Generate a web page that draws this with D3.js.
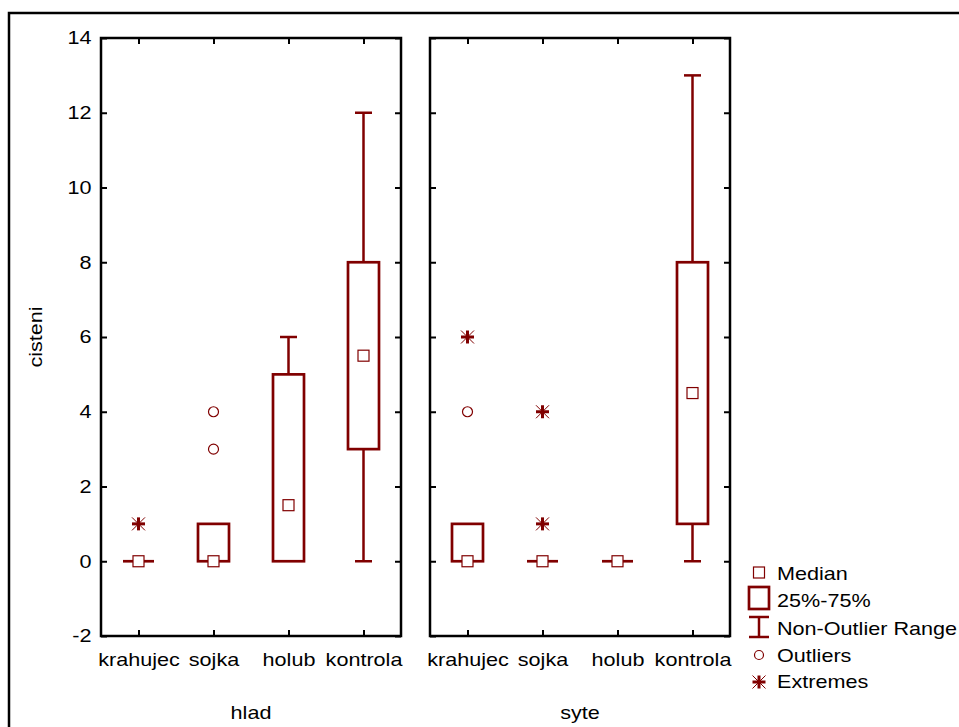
<!DOCTYPE html>
<html><head><meta charset="utf-8">
<script src="https://cdn.jsdelivr.net/npm/d3@7"></script>
<style>body{margin:0;background:#fff}text{font-family:"Liberation Sans",Arial,sans-serif}</style>
</head><body><svg id="c" width="959" height="727"></svg>
<script>
const categories = ["krahujec","sojka","holub","kontrola"];
const groups = ["hlad","syte"];
const yTicks = [-2,0,2,4,6,8,10,12,14];
// per group: median, q1, q3, whisker min, whisker max
const hladMedian = [0,0,1.5,5.5], hladQ1=[0,0,0,3], hladQ3=[0,1,5,8], hladMin=[0,0,0,0], hladMax=[0,1,6,12];
const syteMedian = [0,0,0,4.5], syteQ1=[0,0,0,1], syteQ3=[1,0,0,8], syteMin=[0,0,0,0], syteMax=[1,0,0,13];
const hladOutliers = [[],[3,4],[],[]], hladExtremes=[[1],[],[],[]];
const syteOutliers = [[4],[],[],[]], syteExtremes=[[6],[1,4],[],[]];
const legendLabels = ["Median","25%-75%","Non-Outlier Range","Outliers","Extremes"];

const red = "#800000";
const FS = 18, SX = "scale(1.2,1)";
const svg = d3.select("#c");
svg.append("rect").attr("x",9).attr("y",13).attr("width",990).attr("height",760)
  .attr("fill","none").attr("stroke","#000").attr("stroke-width",2.5);

const y = d3.scaleLinear().domain([-2,14]).range([636,38]);
const panels = [
  {name:groups[0], x0:101, x1:401, med:hladMedian,q1:hladQ1,q3:hladQ3,mn:hladMin,mx:hladMax,out:hladOutliers,ext:hladExtremes},
  {name:groups[1], x0:430, x1:730, med:syteMedian,q1:syteQ1,q3:syteQ3,mn:syteMin,mx:syteMax,out:syteOutliers,ext:syteExtremes}
];
const boxW = 31, capW = 17, medS = 11;

function extreme(g, cx, cy){
  const s=6.5;
  g.append("line").attr("x1",cx-s).attr("x2",cx+s).attr("y1",cy-s).attr("y2",cy+s).attr("stroke",red).attr("stroke-width",1);
  g.append("line").attr("x1",cx-s).attr("x2",cx+s).attr("y1",cy+s).attr("y2",cy-s).attr("stroke",red).attr("stroke-width",1);
  g.append("line").attr("x1",cx-s).attr("x2",cx+s).attr("y1",cy).attr("y2",cy).attr("stroke",red).attr("stroke-width",3);
  g.append("line").attr("x1",cx).attr("x2",cx).attr("y1",cy-s).attr("y2",cy+s).attr("stroke",red).attr("stroke-width",3);
}
function styleText(a){
  a.selectAll("text").attr("font-size",FS).attr("fill","#000")
   .attr("font-family","Liberation Sans, Arial, sans-serif").attr("transform",SX);
}

panels.forEach((p,pi)=>{
  const x = d3.scalePoint().domain(categories).range([p.x0,p.x1]).padding(0.5);
  const g = svg.append("g");
  const la = d3.axisLeft(y).tickValues(yTicks).tickSizeInner(-6).tickSizeOuter(0).tickPadding(8)
    .tickFormat(pi>0 ? "" : d=>String(d));
  g.append("g").attr("transform",`translate(${p.x0},0)`).call(la)
    .call(a=>{styleText(a);a.selectAll("line").attr("stroke-width",2);a.select(".domain").remove();});
  g.append("g").attr("transform",`translate(${p.x1},0)`).call(d3.axisRight(y).tickValues(yTicks).tickSizeInner(-6).tickSizeOuter(0).tickFormat(""))
    .call(a=>{a.selectAll("line").attr("stroke-width",2);a.select(".domain").remove();});
  g.append("g").attr("transform",`translate(0,${y(-2)})`).call(d3.axisBottom(x).tickSizeInner(-6).tickSizeOuter(0).tickPadding(17))
    .call(a=>{styleText(a);a.selectAll("line").attr("stroke-width",2);a.select(".domain").remove();});
  g.append("g").attr("transform",`translate(0,${y(14)})`).call(d3.axisTop(x).tickSizeInner(-6).tickSizeOuter(0).tickFormat(""))
    .call(a=>{a.selectAll("line").attr("stroke-width",2);a.select(".domain").remove();});
  g.append("rect").attr("x",p.x0).attr("y",y(14)).attr("width",p.x1-p.x0).attr("height",y(-2)-y(14))
    .attr("fill","none").attr("stroke","#000").attr("stroke-width",2.5);
  g.append("text").attr("transform",`translate(${(p.x0+p.x1)/2},719) ${SX}`).attr("text-anchor","middle").attr("font-size",FS).text(p.name);

  categories.forEach((c,i)=>{
    const cx = x(c);
    if(p.mx[i]>p.q3[i]){
      g.append("line").attr("x1",cx).attr("x2",cx).attr("y1",y(p.q3[i])).attr("y2",y(p.mx[i])).attr("stroke",red).attr("stroke-width",2.5);
      g.append("line").attr("x1",cx-capW/2).attr("x2",cx+capW/2).attr("y1",y(p.mx[i])).attr("y2",y(p.mx[i])).attr("stroke",red).attr("stroke-width",2.5);
    }
    if(p.mn[i]<p.q1[i]){
      g.append("line").attr("x1",cx).attr("x2",cx).attr("y1",y(p.q1[i])).attr("y2",y(p.mn[i])).attr("stroke",red).attr("stroke-width",2.5);
      g.append("line").attr("x1",cx-capW/2).attr("x2",cx+capW/2).attr("y1",y(p.mn[i])).attr("y2",y(p.mn[i])).attr("stroke",red).attr("stroke-width",2.5);
    }
    if(p.q3[i]>p.q1[i]){
      g.append("rect").attr("x",cx-boxW/2).attr("y",y(p.q3[i])).attr("width",boxW).attr("height",y(p.q1[i])-y(p.q3[i]))
        .attr("fill","none").attr("stroke",red).attr("stroke-width",2.7);
    } else {
      g.append("line").attr("x1",cx-boxW/2).attr("x2",cx+boxW/2).attr("y1",y(p.q1[i])).attr("y2",y(p.q1[i])).attr("stroke",red).attr("stroke-width",2.7);
    }
    p.out[i].forEach(v=>g.append("circle").attr("cx",cx).attr("cy",y(v)).attr("r",5).attr("fill","#fff").attr("stroke",red).attr("stroke-width",1.2));
    p.ext[i].forEach(v=>extreme(g,cx,y(v)));
    g.append("rect").attr("x",cx-medS/2).attr("y",y(p.med[i])-medS/2).attr("width",medS).attr("height",medS)
      .attr("fill","#fff").attr("stroke",red).attr("stroke-width",1.2);
  });
});

svg.append("text").attr("transform","translate(42,337) rotate(-90) "+SX).attr("text-anchor","middle").attr("font-size",FS).text("cisteni");

// legend
const lg = svg.append("g");
const ly = [572.5,598,627,655,682];
const lb = [580,607,635,662,688];
const lx = 759;
lg.append("rect").attr("x",lx-5.5).attr("y",ly[0]-5.5).attr("width",11).attr("height",11).attr("fill","#fff").attr("stroke",red).attr("stroke-width",1.2);
lg.append("rect").attr("x",lx-10).attr("y",ly[1]-11).attr("width",20).attr("height",22).attr("fill","none").attr("stroke",red).attr("stroke-width",2.7);
lg.append("line").attr("x1",lx).attr("x2",lx).attr("y1",ly[2]-10).attr("y2",ly[2]+10).attr("stroke",red).attr("stroke-width",2.5);
lg.append("line").attr("x1",lx-10).attr("x2",lx+10).attr("y1",ly[2]-10).attr("y2",ly[2]-10).attr("stroke",red).attr("stroke-width",2.5);
lg.append("line").attr("x1",lx-10).attr("x2",lx+10).attr("y1",ly[2]+10).attr("y2",ly[2]+10).attr("stroke",red).attr("stroke-width",2.5);
lg.append("circle").attr("cx",lx).attr("cy",ly[3]).attr("r",4.5).attr("fill","#fff").attr("stroke",red).attr("stroke-width",1.2);
extreme(lg,lx,ly[4]);
legendLabels.forEach((t,i)=>lg.append("text").attr("transform",`translate(777,${lb[i]}) ${SX}`).attr("font-size",FS).text(t));
</script></body></html>
